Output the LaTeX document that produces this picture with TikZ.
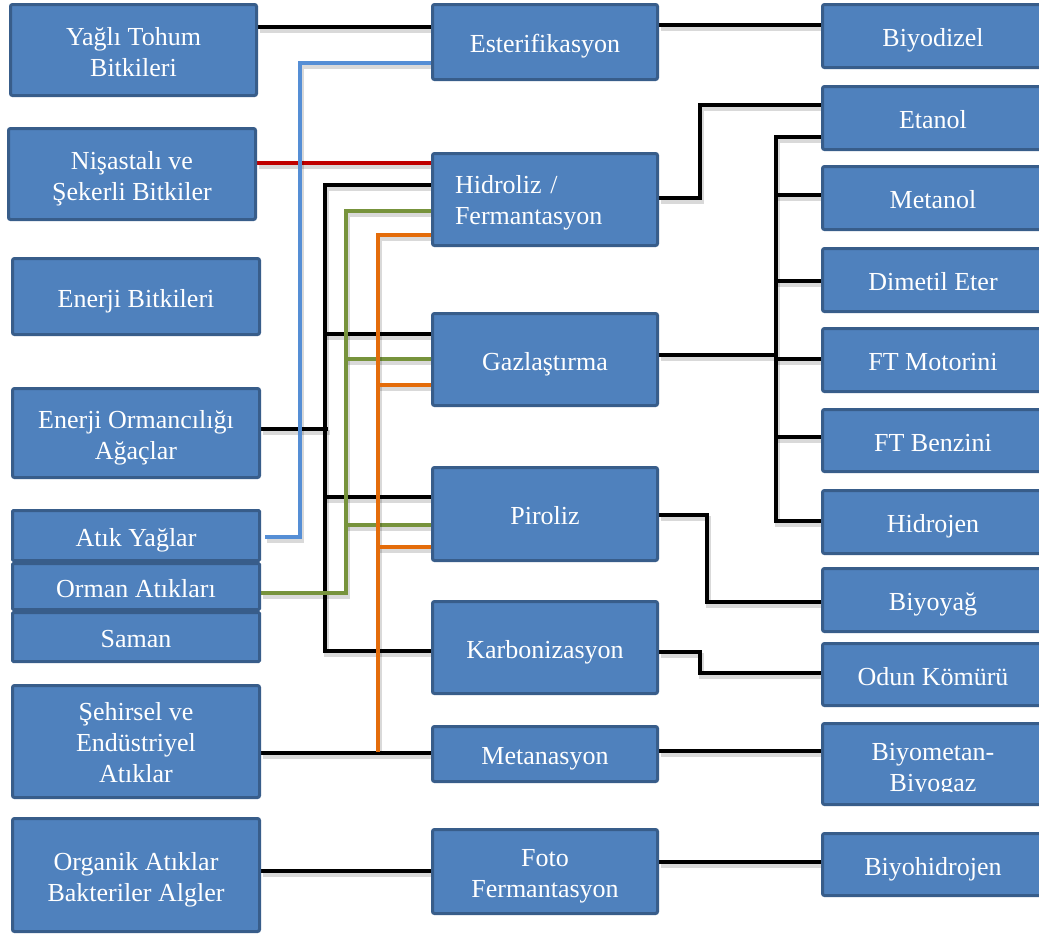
\documentclass[tikz,border=0pt]{standalone}
\usepackage{fontspec}
\setmainfont{Liberation Serif}
\usetikzlibrary{backgrounds}
\definecolor{boxfill}{HTML}{4F81BD}
\definecolor{boxedge}{HTML}{385D8A}
\definecolor{wblue}{HTML}{558ED5}
\definecolor{wgreen}{HTML}{77933C}
\definecolor{worange}{HTML}{E46C0A}
\definecolor{wred}{HTML}{C00000}
\begin{document}
\begin{tikzpicture}[x=1pt,y=-1pt,
  box/.style={draw=boxedge, fill=boxfill, line width=3pt, rounded corners=2pt,
    text=white, font=\fontsize{26}{31}\selectfont, align=center, inner sep=0pt},
  lbox/.style={box, minimum width=247pt},
  mbox/.style={box, minimum width=225pt},
  rbox/.style={box, minimum width=221pt},
  one/.style={text height=24pt, text depth=3pt},
  two/.style={text height=55pt, text depth=3pt},
  three/.style={text height=85pt, text depth=3pt},
  label text/.style={text=white, font=\fontsize{26}{31}\selectfont, inner sep=0pt},
  wire/.style={line width=4pt, draw=black,
    preaction={draw=black, draw opacity=0.15, line width=5pt,
      transform canvas={xshift=1.5pt, yshift=-3pt}}}]
\useasboundingbox (0,0) rectangle (1039,935);
\clip (0,0) rectangle (1039,935);

% feedstocks
\node[lbox, two, minimum width=246pt, minimum height=91pt] (yt) at (133.5,50) {Yağlı Tohum\\Bitkileri};
\node[lbox, two, minimum height=91pt] (ns) at (132,174) {Nişastalı ve\\Şekerli Bitkiler};
\node[lbox, one, minimum height=76pt] (eb) at (136,296.5) {Enerji Bitkileri};
\node[lbox, two, minimum height=89pt] (eo) at (136,433) {Enerji Ormancılığı\\Ağaçlar};
\node[lbox, one, minimum height=50pt, rounded corners=1pt] (ay) at (136,535.5) {Atık Yağlar};
\node[lbox, one, minimum height=46pt, rounded corners=1pt] (oa) at (136,586.5) {Orman Atıkları};
\node[lbox, one, minimum height=49pt, rounded corners=1pt] (sa) at (136,637) {Saman};
\node[lbox, three, minimum height=112pt] (se) at (136,741.5) {Şehirsel ve\\Endüstriyel\\Atıklar};
\node[lbox, two, minimum height=113pt] (og) at (136,875) {Organik Atıklar\\Bakteriler Algler};

% conversion processes
\node[mbox, one, minimum height=75pt] (es) at (545,42) {Esterifikasyon};
\node[mbox, minimum height=92pt, text width=180pt, align=left,
      text height=22pt, text depth=35pt] (hf) at (545,199.5) {Hidroliz /\\Fermantasyon};
\node[mbox, one, minimum height=92pt] (gz) at (545,359.5) {Gazlaştırma};
\node[mbox, one, minimum height=93pt] (pr) at (545,514) {Piroliz};
\node[mbox, one, minimum height=92pt] (kb) at (545,647.5) {Karbonizasyon};
\node[mbox, one, minimum height=55pt] (mt) at (545,754) {Metanasyon};
\node[mbox, two, minimum height=84pt] (ff) at (545,871.5) {Foto\\Fermantasyon};

% products
\node[rbox, one, minimum height=63pt] (bd) at (933,36) {Biyodizel};
\node[rbox, one, minimum height=63pt] (et) at (933,118) {Etanol};
\node[rbox, one, minimum height=63pt] (me) at (933,198) {Metanol};
\node[rbox, one, minimum height=63pt] (de) at (933,280) {Dimetil Eter};
\node[rbox, one, minimum height=63pt] (fm) at (933,360) {FT Motorini};
\node[rbox, one, minimum height=62pt] (fb) at (933,440.5) {FT Benzini};
\node[rbox, one, minimum height=63pt] (hd) at (933,522) {Hidrojen};
\node[rbox, one, minimum height=63pt] (by) at (933,600) {Biyoyağ};
\node[rbox, one, minimum height=62pt] (ok) at (933,674.5) {Odun Kömürü};
\node[rbox, minimum height=81pt] (bm) at (933,764) {};
\node[rbox, one, minimum height=62pt] (bh) at (933,864.5) {Biyohidrojen};
\begin{scope}
  \clip (821,724) rectangle (1045,791);
  \node[label text, anchor=base] (bmA) at (933,760) {Biyometan-};
  \node[label text, anchor=base] (bmB) at (933,791) {Biyogaz};
\end{scope}

\begin{pgfonlayer}{background}
  \fill[white] (0,0) rectangle (1039,935);
  % left side
  \draw[wire] (yt.east |- 0,27) -- (es.west |- 0,27);
  \draw[wire,wred] (ns.east |- 0,163) -- (hf.west |- 0,163);
  \draw[wire] (hf.west |- 0,185) -- (325,185) -- (325,651) -- (kb.west |- 0,651);
  \draw[wire] (325,334) -- (gz.west |- 0,334);
  \draw[wire] (325,497) -- (pr.west |- 0,497);
  \draw[wire] (eo.east |- 0,429) -- (328,429);
  \draw[wire] (se.east |- 0,753) -- (mt.west |- 0,753);
  \draw[wire] (og.east |- 0,871) -- (ff.west |- 0,871);
  \draw[wire,wblue] (ay.east |- 0,537) ++(4,0) -| (300,63) -- (es.west |- 0,63);
  \draw[wire,wgreen] (oa.east |- 0,593) -- (346,593) -- (346,211) -- (hf.west |- 0,211);
  \draw[wire,wgreen] (346,359) -- (gz.west |- 0,359);
  \draw[wire,wgreen] (346,525) -- (pr.west |- 0,525);
  \draw[wire,worange] (hf.west |- 0,235) -- (378,235) -- (378,752);
  \draw[wire,worange] (378,385) -- (gz.west |- 0,385);
  \draw[wire,worange] (378,547) -- (pr.west |- 0,547);
  % right side
  \draw[wire] (es.east |- 0,25) -- (bd.west |- 0,25);
  \draw[wire] (hf.east |- 0,198) -- (700,198) -- (700,105) -- (et.west |- 0,105);
  \draw[wire] (gz.east |- 0,355) -- (776,355);
  \draw[wire] (et.west |- 0,137) -- (776,137) -- (776,521) -- (hd.west |- 0,521);
  \draw[wire] (776,195) -- (me.west |- 0,195);
  \draw[wire] (776,281) -- (de.west |- 0,281);
  \draw[wire] (776,359) -- (fm.west |- 0,359);
  \draw[wire] (776,437) -- (fb.west |- 0,437);
  \draw[wire] (pr.east |- 0,515) -- (707,515) -- (707,602) -- (by.west |- 0,602);
  \draw[wire] (kb.east |- 0,652) -- (700,652) -- (700,673) -- (ok.west |- 0,673);
  \draw[wire] (mt.east |- 0,751) -- (bm.west |- 0,751);
  \draw[wire] (ff.east |- 0,862) -- (bh.west |- 0,862);
\end{pgfonlayer}
\end{tikzpicture}
\end{document}
